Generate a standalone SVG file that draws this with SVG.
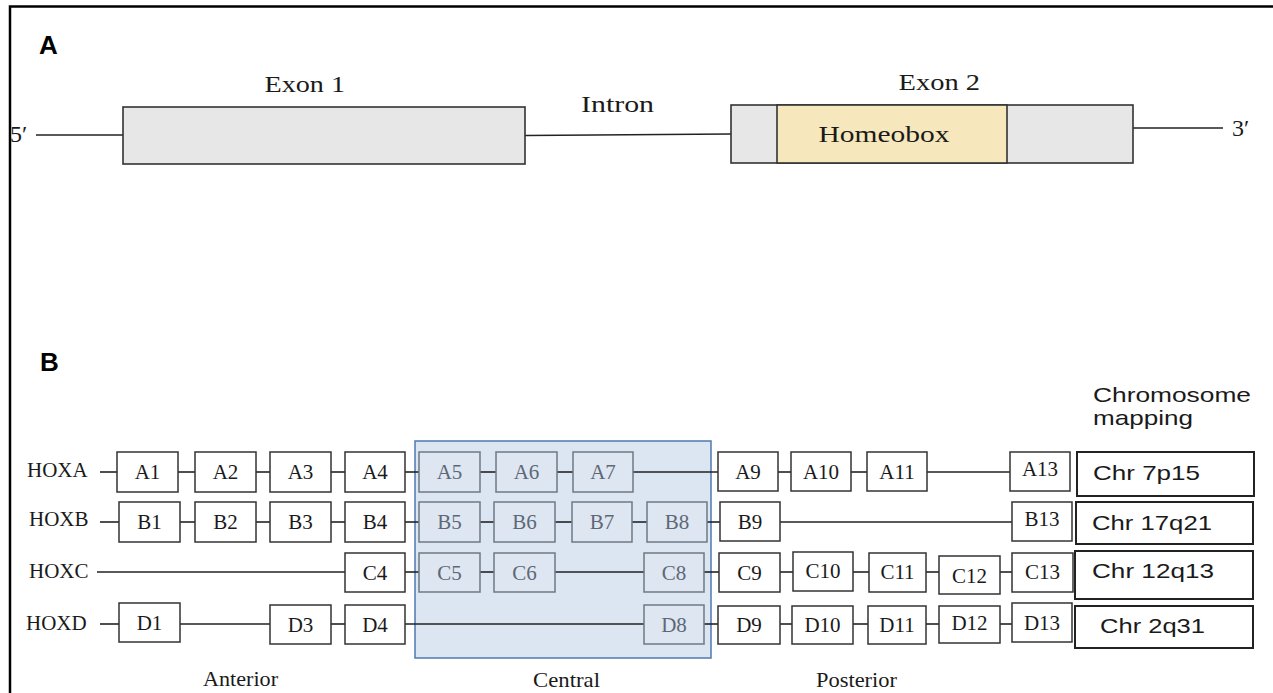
<svg xmlns="http://www.w3.org/2000/svg" width="1273" height="693" viewBox="0 0 1273 693">
<defs>
<style>
.bg{fill:#ffffff}
.frame{fill:none;stroke:#000;stroke-width:2.5}
.ser{font-family:"Liberation Serif","Times New Roman",serif;fill:#1a1a1a}
.pl{font-family:"Liberation Sans",Arial,sans-serif;font-weight:bold;font-size:26px;fill:#000}
.exon{fill:#e7e7e7;stroke:#333;stroke-width:1.6}
.hb{fill:#f6e7bc;stroke:#333;stroke-width:1.6}
.ln{stroke:#222;stroke-width:1.6;fill:none}
.g{fill:#fff;stroke:#333;stroke-width:1.5}
.gc{fill:#dde6f1;stroke:#6e7986;stroke-width:1.5}
.gt{font-family:"Liberation Serif","Times New Roman",serif;font-size:21px;fill:#1a1a1a;text-anchor:middle}
.gct{font-family:"Liberation Serif","Times New Roman",serif;font-size:21px;fill:#5d6877;text-anchor:middle}
.chr{fill:#fff;stroke:#222;stroke-width:2}
.central{fill:#dce6f2;stroke:#4f78b2;stroke-width:1.5}
.hox{font-family:"Liberation Serif","Times New Roman",serif;font-size:21px;fill:#1a1a1a}
.big{font-family:"Liberation Serif","Times New Roman",serif;font-size:24px;fill:#1a1a1a}
.ct{font-family:"Liberation Sans",Arial,sans-serif;font-size:21px;fill:#1a1a1a}
</style>
</defs>
<rect class="bg" x="0" y="0" width="1273" height="693"/>
<path class="frame" d="M10,693 V6.5 H1273"/>

<!-- Panel A -->
<g id="panelA-label"><text class="pl" x="39" y="54">A</text></g>
<g id="connectorsA">
<line class="ln" x1="36" y1="135" x2="123" y2="135"/>
<line class="ln" x1="525" y1="135.5" x2="731" y2="134"/>
<line class="ln" x1="1133" y1="128" x2="1223" y2="128"/>
</g>
<g id="five-prime"><text class="big" x="10" y="142">5′</text></g>
<g id="exon1">
<rect class="exon" x="123" y="107" width="402" height="57"/>
<text class="big" x="264.5" y="92" textLength="80.5" lengthAdjust="spacingAndGlyphs">Exon 1</text>
</g>
<g id="intron"><text class="big" x="581" y="112" textLength="73" lengthAdjust="spacingAndGlyphs">Intron</text></g>
<g id="exon2">
<rect class="exon" x="731" y="105" width="402" height="58"/>
<rect class="hb" x="777" y="105" width="230" height="58"/>
<text class="big" x="818.5" y="142" textLength="131" lengthAdjust="spacingAndGlyphs">Homeobox</text>
<text class="big" x="898.5" y="90" textLength="81.5" lengthAdjust="spacingAndGlyphs">Exon 2</text>
</g>
<g id="three-prime"><text class="big" x="1232" y="136">3′</text></g>

<!-- Panel B -->
<g id="panelB-label"><text class="pl" x="40" y="371">B</text></g>
<g id="chrom-title">
<text class="ct" x="1093" y="402" textLength="158" lengthAdjust="spacingAndGlyphs">Chromosome</text>
<text class="ct" x="1093" y="425" textLength="100" lengthAdjust="spacingAndGlyphs">mapping</text>
</g>
<g id="central-region"><rect class="central" x="415" y="441" width="296" height="217"/></g>

<g id="connectors">
<!-- row A -->
<line class="ln" x1="100" y1="472" x2="117" y2="472"/>
<line class="ln" x1="178" y1="472" x2="195" y2="472"/>
<line class="ln" x1="256" y1="472" x2="270" y2="472"/>
<line class="ln" x1="331" y1="472" x2="345" y2="472"/>
<line class="ln" x1="405" y1="472" x2="419" y2="472"/>
<line class="ln" x1="480" y1="472" x2="496" y2="472"/>
<line class="ln" x1="557" y1="472" x2="573" y2="472"/>
<line class="ln" x1="633" y1="472" x2="718" y2="472"/>
<line class="ln" x1="778" y1="472" x2="791" y2="472"/>
<line class="ln" x1="851" y1="472" x2="867" y2="472"/>
<line class="ln" x1="927" y1="472" x2="1010" y2="472"/>
<!-- row B -->
<line class="ln" x1="100" y1="522" x2="119" y2="522"/>
<line class="ln" x1="180" y1="522" x2="195" y2="522"/>
<line class="ln" x1="256" y1="522" x2="270" y2="522"/>
<line class="ln" x1="331" y1="522" x2="345" y2="522"/>
<line class="ln" x1="405" y1="522" x2="419" y2="522"/>
<line class="ln" x1="480" y1="522" x2="494" y2="522"/>
<line class="ln" x1="555" y1="522" x2="572" y2="522"/>
<line class="ln" x1="632" y1="522" x2="647" y2="522"/>
<line class="ln" x1="707" y1="522" x2="720" y2="522"/>
<line class="ln" x1="780" y1="522" x2="1012" y2="522"/>
<!-- row C -->
<line class="ln" x1="97" y1="572" x2="345" y2="572"/>
<line class="ln" x1="405" y1="572" x2="419" y2="572"/>
<line class="ln" x1="480" y1="572" x2="494" y2="572"/>
<line class="ln" x1="555" y1="572" x2="644" y2="572"/>
<line class="ln" x1="704" y1="572" x2="719" y2="572"/>
<line class="ln" x1="780" y1="572" x2="793" y2="572"/>
<line class="ln" x1="853" y1="572" x2="869" y2="572"/>
<line class="ln" x1="926" y1="572" x2="939" y2="572"/>
<line class="ln" x1="1000" y1="572" x2="1012" y2="572"/>
<!-- row D -->
<line class="ln" x1="100" y1="624" x2="119" y2="624"/>
<line class="ln" x1="180" y1="624" x2="270" y2="624"/>
<line class="ln" x1="331" y1="624" x2="345" y2="624"/>
<line class="ln" x1="405" y1="624" x2="644" y2="624"/>
<line class="ln" x1="704" y1="624" x2="718" y2="624"/>
<line class="ln" x1="780" y1="624" x2="792" y2="624"/>
<line class="ln" x1="853" y1="624" x2="868" y2="624"/>
<line class="ln" x1="926" y1="624" x2="939" y2="624"/>
<line class="ln" x1="1000" y1="624" x2="1012" y2="624"/>
</g>

<!-- HOX labels -->
<g id="HOXA"><text class="hox" x="27" y="477">HOXA</text></g>
<g id="HOXB"><text class="hox" x="29" y="526">HOXB</text></g>
<g id="HOXC"><text class="hox" x="29" y="578">HOXC</text></g>
<g id="HOXD"><text class="hox" x="26" y="630">HOXD</text></g>

<!-- Row A genes -->
<g id="A1"><rect class="g" x="117" y="452" width="61" height="40"/><text class="gt" x="147.5" y="479">A1</text></g>
<g id="A2"><rect class="g" x="195" y="452" width="61" height="40"/><text class="gt" x="225.5" y="479">A2</text></g>
<g id="A3"><rect class="g" x="270" y="452" width="61" height="40"/><text class="gt" x="300.5" y="479">A3</text></g>
<g id="A4"><rect class="g" x="345" y="452" width="60" height="40"/><text class="gt" x="375" y="479">A4</text></g>
<g id="A5"><rect class="gc" x="419" y="452" width="61" height="40"/><text class="gct" x="449.5" y="479">A5</text></g>
<g id="A6"><rect class="gc" x="496" y="452" width="61" height="40"/><text class="gct" x="526.5" y="479">A6</text></g>
<g id="A7"><rect class="gc" x="573" y="452" width="60" height="40"/><text class="gct" x="603" y="479">A7</text></g>
<g id="A9"><rect class="g" x="718" y="452" width="60" height="39"/><text class="gt" x="748" y="479">A9</text></g>
<g id="A10"><rect class="g" x="791" y="452" width="60" height="39"/><text class="gt" x="821" y="479">A10</text></g>
<g id="A11"><rect class="g" x="867" y="452" width="60" height="39"/><text class="gt" x="897" y="479">A11</text></g>
<g id="A13"><rect class="g" x="1010" y="452" width="60" height="39"/><text class="gt" x="1040" y="476">A13</text></g>

<!-- Row B genes -->
<g id="B1"><rect class="g" x="119" y="502" width="61" height="40"/><text class="gt" x="149.5" y="529">B1</text></g>
<g id="B2"><rect class="g" x="195" y="502" width="61" height="40"/><text class="gt" x="225.5" y="529">B2</text></g>
<g id="B3"><rect class="g" x="270" y="502" width="61" height="40"/><text class="gt" x="300.5" y="529">B3</text></g>
<g id="B4"><rect class="g" x="345" y="502" width="60" height="40"/><text class="gt" x="375" y="529">B4</text></g>
<g id="B5"><rect class="gc" x="419" y="502" width="61" height="40"/><text class="gct" x="449.5" y="529">B5</text></g>
<g id="B6"><rect class="gc" x="494" y="502" width="61" height="40"/><text class="gct" x="524.5" y="529">B6</text></g>
<g id="B7"><rect class="gc" x="572" y="502" width="60" height="40"/><text class="gct" x="602" y="529">B7</text></g>
<g id="B8"><rect class="gc" x="647" y="502" width="60" height="40"/><text class="gct" x="677" y="529">B8</text></g>
<g id="B9"><rect class="g" x="720" y="502" width="60" height="39"/><text class="gt" x="750" y="529">B9</text></g>
<g id="B13"><rect class="g" x="1012" y="502" width="60" height="39"/><text class="gt" x="1042" y="526">B13</text></g>

<!-- Row C genes -->
<g id="C4"><rect class="g" x="345" y="553" width="60" height="39"/><text class="gt" x="375" y="580">C4</text></g>
<g id="C5"><rect class="gc" x="419" y="553" width="61" height="39"/><text class="gct" x="449.5" y="580">C5</text></g>
<g id="C6"><rect class="gc" x="494" y="553" width="61" height="39"/><text class="gct" x="524.5" y="580">C6</text></g>
<g id="C8"><rect class="gc" x="644" y="553" width="60" height="39"/><text class="gct" x="674" y="580">C8</text></g>
<g id="C9"><rect class="g" x="719" y="553" width="61" height="39"/><text class="gt" x="749.5" y="580">C9</text></g>
<g id="C10"><rect class="g" x="793" y="552" width="60" height="39"/><text class="gt" x="823" y="578">C10</text></g>
<g id="C11"><rect class="g" x="869" y="553" width="57" height="39"/><text class="gt" x="897.5" y="579">C11</text></g>
<g id="C12"><rect class="g" x="939" y="556" width="61" height="38"/><text class="gt" x="969.5" y="583">C12</text></g>
<g id="C13"><rect class="g" x="1012" y="553" width="61" height="39"/><text class="gt" x="1042.5" y="579">C13</text></g>

<!-- Row D genes -->
<g id="D1"><rect class="g" x="119" y="603" width="61" height="39"/><text class="gt" x="149.5" y="630">D1</text></g>
<g id="D3"><rect class="g" x="270" y="605" width="61" height="39"/><text class="gt" x="300.5" y="632">D3</text></g>
<g id="D4"><rect class="g" x="345" y="605" width="60" height="39"/><text class="gt" x="375" y="632">D4</text></g>
<g id="D8"><rect class="gc" x="644" y="605" width="60" height="39"/><text class="gct" x="674" y="632">D8</text></g>
<g id="D9"><rect class="g" x="718" y="606" width="62" height="38"/><text class="gt" x="749" y="632">D9</text></g>
<g id="D10"><rect class="g" x="792" y="606" width="61" height="38"/><text class="gt" x="822.5" y="632">D10</text></g>
<g id="D11"><rect class="g" x="868" y="606" width="58" height="38"/><text class="gt" x="897" y="632">D11</text></g>
<g id="D12"><rect class="g" x="939" y="606" width="61" height="37"/><text class="gt" x="969.5" y="630">D12</text></g>
<g id="D13"><rect class="g" x="1012" y="603" width="60" height="39"/><text class="gt" x="1042" y="630">D13</text></g>

<!-- Chromosome mapping -->
<g id="chr7"><rect class="chr" x="1077" y="452" width="177" height="44"/><text class="ct" x="1093" y="480" textLength="107" lengthAdjust="spacingAndGlyphs">Chr 7p15</text></g>
<g id="chr17"><rect class="chr" x="1076" y="502" width="177" height="42"/><text class="ct" x="1092" y="530" textLength="120" lengthAdjust="spacingAndGlyphs">Chr 17q21</text></g>
<g id="chr12"><rect class="chr" x="1075" y="551" width="178" height="48"/><text class="ct" x="1092" y="578" textLength="122" lengthAdjust="spacingAndGlyphs">Chr 12q13</text></g>
<g id="chr2"><rect class="chr" x="1075" y="606" width="178" height="42"/><text class="ct" x="1100" y="633" textLength="105" lengthAdjust="spacingAndGlyphs">Chr 2q31</text></g>

<!-- Region labels -->
<g id="anterior"><text class="ser" font-size="22" x="203" y="686" textLength="75" lengthAdjust="spacingAndGlyphs">Anterior</text></g>
<g id="central"><text class="ser" font-size="22" x="533" y="687" textLength="67" lengthAdjust="spacingAndGlyphs">Central</text></g>
<g id="posterior"><text class="ser" font-size="22" x="816" y="687" textLength="81" lengthAdjust="spacingAndGlyphs">Posterior</text></g>
</svg>
